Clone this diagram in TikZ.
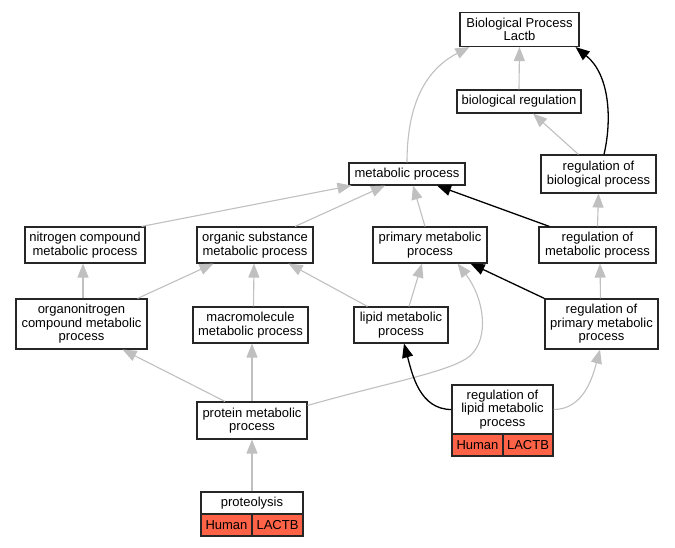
\documentclass[tikz,border=0pt]{standalone}
\usepackage{fontspec}
\setmainfont{Liberation Sans}
\usetikzlibrary{arrows.meta}
\definecolor{edgegray}{HTML}{C0C0C0}
\definecolor{hitred}{HTML}{FF6347}
\tikzset{
  gobox/.style={draw=black!85, line width=1.1pt, fill=white, inner sep=0pt, align=center,
    font=\fontsize{13}{13.6}\selectfont},
  cellbox/.style={gobox, fill=hitred},
  isa/.style={draw=edgegray, line width=1.1pt, -{Triangle[length=14pt,width=11pt,fill=edgegray]}},
  regs/.style={draw=black, line width=1.3pt, -{Triangle[length=14pt,width=11pt,fill=black]}},
}
\begin{document}
\begin{tikzpicture}[x=1pt,y=-1pt]
\useasboundingbox (0,0) rectangle (675,547);
\fill[white] (0,0) rectangle (675,547);

\node[gobox, minimum width=119pt, minimum height=34pt] (bp) at (519.5,29.5) {Biological Process\\Lactb};
\node[gobox, minimum width=124pt, minimum height=23pt] (breg) at (519,101.5) {biological regulation};
\node[gobox, minimum width=115pt, minimum height=38pt] (rbp) at (598.5,174) {regulation of\\biological process};
\node[gobox, minimum width=116pt, minimum height=22pt] (mp) at (407,174) {metabolic process};
\node[gobox, minimum width=120pt, minimum height=36pt] (ncmp) at (85,245) {nitrogen compound\\metabolic process};
\node[gobox, minimum width=116pt, minimum height=36pt] (osmp) at (255,245) {organic substance\\metabolic process};
\node[gobox, minimum width=114pt, minimum height=36pt] (pmp) at (430,245) {primary metabolic\\process};
\node[gobox, minimum width=117pt, minimum height=36pt] (rmp) at (597.5,245) {regulation of\\metabolic process};
\node[gobox, minimum width=131pt, minimum height=50pt] (onmp) at (81.5,324) {organonitrogen\\compound metabolic\\process};
\node[gobox, minimum width=115pt, minimum height=36pt] (mmmp) at (250.5,325) {macromolecule\\metabolic process};
\node[gobox, minimum width=94pt, minimum height=36pt] (lmp) at (401,325) {lipid metabolic\\process};
\node[gobox, minimum width=113pt, minimum height=50pt] (rpmp) at (601.5,324) {regulation of\\primary metabolic\\process};
\node[gobox, minimum width=110pt, minimum height=37pt] (prmp) at (252,420.5) {protein metabolic\\process};

\node[gobox, minimum width=101pt, minimum height=49pt] (rlmp) at (502.5,409.5) {regulation of\\lipid metabolic\\process};
\node[cellbox, minimum width=51pt, minimum height=22pt] (rlmph) at (477.5,445) {Human};
\node[cellbox, minimum width=50pt, minimum height=22pt] (rlmpg) at (528,445) {LACTB};

\node[gobox, minimum width=102pt, minimum height=22pt] (prot) at (252,503) {proteolysis};
\node[cellbox, minimum width=51pt, minimum height=22pt] (proth) at (226.5,525) {Human};
\node[cellbox, minimum width=51pt, minimum height=22pt] (protg) at (277.5,525) {LACTB};

% gray is_a edges
\draw[isa] (breg.north) -- (bp.south);
\draw[isa] (mp.north) .. controls (407,105) and (425,70) .. ([xshift=10pt]bp.south west);
\draw[isa] ([xshift=-20pt]rbp.north) -- ([xshift=14pt]breg.south);
\draw[isa] (rmp.north) -- (rbp.south);
\draw[isa] ([xshift=-4pt]ncmp.north east) -- ([xshift=3pt]mp.south west);
\draw[isa] ([xshift=40pt]osmp.north) -- ([xshift=-22pt]mp.south);
\draw[isa] ([xshift=-5pt]pmp.north) -- ([xshift=6pt]mp.south);
\draw[isa] ([xshift=1.5pt]onmp.north) -- ([xshift=-2pt]ncmp.south);
\draw[isa] ([xshift=-10pt]onmp.north east) -- ([xshift=17pt]osmp.south west);
\draw[isa] ([xshift=3pt]mmmp.north) -- ([xshift=-1pt]osmp.south);
\draw[isa] ([xshift=14pt]lmp.north west) -- ([xshift=-25pt]osmp.south east);
\draw[isa] ([xshift=8pt]lmp.north) -- ([xshift=-8pt]pmp.south);
\draw[isa] ([xshift=-1pt]rpmp.north) -- ([xshift=2.5pt]rmp.south);
\draw[isa] ([xshift=-27pt]prmp.north) -- ([xshift=-25pt]onmp.south east);
\draw[isa] (prmp.north) -- ([xshift=1.5pt]mmmp.south);
\draw[isa] ([yshift=-4pt]prmp.north east) .. controls (390,382) and (450,372) .. (470,356)
   .. controls (490,338) and (484,298) .. ([xshift=-30pt]pmp.south east);
\draw[isa] (rlmp.east) to[out=0,in=-105] ([xshift=-1.5pt]rpmp.south);
\draw[isa] (prot.north) -- (prmp.south);

% black regulates edges
\draw[regs] ([xshift=5.5pt]rbp.north) .. controls (612,120) and (610,75) .. ([xshift=-4pt]bp.south east);
\draw[regs] ([xshift=11pt]rmp.north west) -- ([xshift=30pt]mp.south);
\draw[regs] (rpmp.north west) -- ([xshift=-17pt]pmp.south east);
\draw[regs] (rlmp.west) to[out=180,in=-75] ([xshift=3pt]lmp.south);
\end{tikzpicture}
\end{document}
